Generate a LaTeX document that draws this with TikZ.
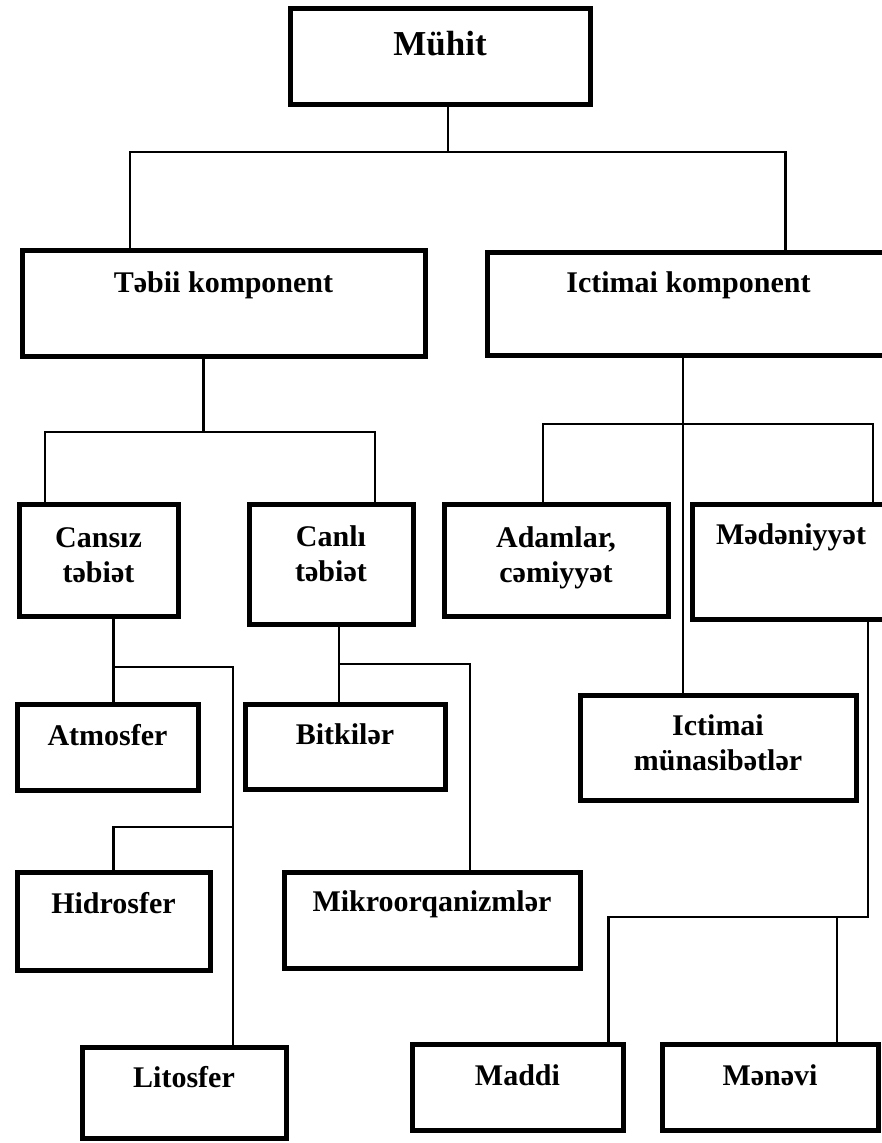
\documentclass[tikz,border=0pt]{standalone}
\usepackage{fontspec}
\setmainfont{Liberation Serif}
\usetikzlibrary{positioning}

\begin{document}
\begin{tikzpicture}[x=1pt,y=-1pt]
\tikzset{compbox/.style={rectangle,draw,line width=5pt,inner sep=0pt,outer sep=0pt,anchor=north west,align=center,font=\bfseries\fontsize{30}{35}\selectfont},
link/.style={line width=2.2pt}}
\useasboundingbox[fill=white] (0,0) rectangle (882,1143);
\node[compbox,minimum width=300pt,text height=47pt,text depth=49pt,font=\bfseries\fontsize{35}{40}\selectfont](muhit) at (290,8){Mühit};
\node[compbox,minimum width=403pt,text height=42pt,text depth=64pt](tabii) at (22,250){Təbii komponent};
\node[compbox,minimum width=403pt,text height=40pt,text depth=63pt](ictimai) at (487,252){Ictimai komponent};
\node[compbox,minimum width=159pt,text height=78pt,text depth=34pt](cansiz) at (19,504){Cansız\\təbiət};
\node[compbox,minimum width=164pt,text height=77pt,text depth=43pt,right=71pt of cansiz.north east,anchor=north west](canli){Canlı\\təbiət};
\node[compbox,minimum width=224pt,text height=78pt,text depth=34pt,right=31pt of canli.north east,anchor=north west](adamlar){Adamlar,\\cəmiyyət};
\node[compbox,minimum width=198pt,text height=40pt,text depth=75pt,right=24pt of adamlar.north east,anchor=north west](medeniyyet){Mədəniyyət};
\node[compbox,minimum width=181pt,text height=41pt,text depth=45pt](atmosfer) at (17,704){Atmosfer};
\node[compbox,minimum width=200pt,text height=40pt,text depth=45pt,right=47pt of atmosfer.north east,anchor=north west](bitkiler){Bitkilər};
\node[compbox,minimum width=276pt,text height=75pt,text depth=30pt](munasibet) at (580,695){Ictimai\\münasibətlər};
\node[compbox,minimum width=193pt,text height=41pt,text depth=57pt](hidrosfer) at (17,872){Hidrosfer};
\node[compbox,minimum width=296pt,text height=39pt,text depth=57pt,right=74pt of hidrosfer.north east,anchor=north west](mikro){Mikroorqanizmlər};
\node[compbox,minimum width=204pt,text height=40pt,text depth=51pt](litosfer) at (82,1047){Litosfer};
\node[compbox,minimum width=211pt,text height=41pt,text depth=45pt](maddi) at (412,1044){Maddi};
\node[compbox,minimum width=216pt,text height=41pt,text depth=45pt,right=39pt of maddi.north east,anchor=north west](menevi){Mənəvi};
\draw[link] ([xshift=8pt]muhit.south) -- ++(0,48);
\draw[link] ([xshift=108pt]tabii.north west) -- ++(0,-98) -| ([xshift=97pt]ictimai.north);
\draw[link] ([xshift=-20pt]tabii.south) -- ++(0,76);
\draw[link] ([xshift=26pt]cansiz.north west) -- ++(0,-72) -| ([xshift=44pt]canli.north);
\draw[link] ([xshift=-35pt]munasibet.north) -- ([xshift=-35pt]munasibet.north |- ictimai.south);
\draw[link] ([xshift=99pt]adamlar.north west) -- ++(0,-80) -| ([xshift=82pt]medeniyyet.north);
\draw[link] ([xshift=15pt]cansiz.south) -- ([xshift=15pt]cansiz.south |- atmosfer.north);
\draw[link] ([xshift=15pt,yshift=-51pt]cansiz.south) -| ([xshift=49pt]litosfer.north);
\draw[link] (hidrosfer.north) -- ++(0,-45) -| ([xshift=49pt]litosfer.north);
\draw[link] ([xshift=8pt]canli.south) -- ([xshift=8pt]canli.south |- bitkiler.north);
\draw[link] ([xshift=8pt,yshift=-40pt]canli.south) -| ([xshift=38pt]mikro.north);
\draw[link] ([xshift=77pt]medeniyyet.south) -- ++(0,298) -| ([xshift=91pt]maddi.north);
\draw[link] ([xshift=67pt]menevi.north) -- ++(0,-126);
\end{tikzpicture}
\end{document}
